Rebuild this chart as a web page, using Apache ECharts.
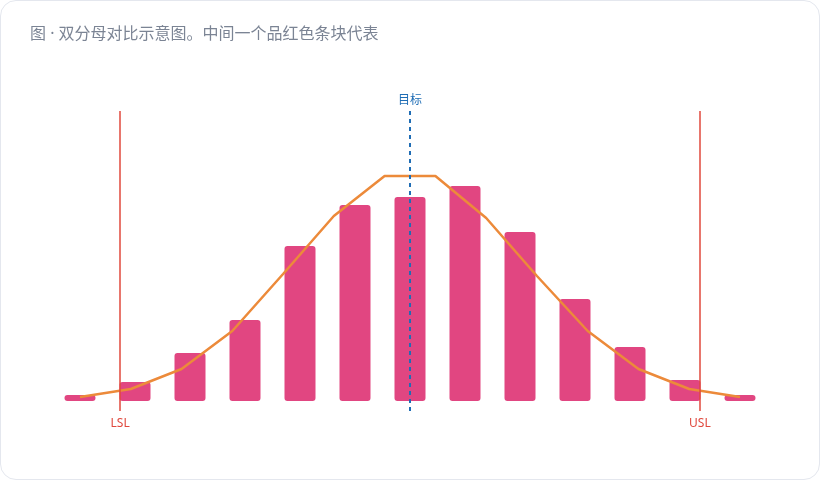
<!DOCTYPE html>
<html>
<head>
<meta charset="utf-8">
<script src="https://cdn.jsdelivr.net/npm/echarts@6/dist/echarts.min.js"></script>
<style>
html,body{margin:0;padding:0;background:#ffffff;}
#card{position:absolute;left:0;top:0;width:818px;height:478px;border:1px solid #e4e7ee;border-radius:16px;background:#fff;overflow:hidden;}
#chart{width:818px;height:478px;}
</style>
</head>
<body>
<div id="card"><div id="chart"></div></div>
<script>
// bar positions (bin index) and bar heights
var binPositions = [0,1,2,3,4,5,6,7,8,9,10,11,12];
var barValues = [3, 9.5, 24, 40.5, 77.5, 98, 102, 107.5, 84.5, 51, 27, 10.5, 3];
// fitted curve points
var curveX = [0, 0.923, 1.846, 2.769, 3.692, 4.615, 5.538, 6.462, 7.385, 8.308, 9.231, 10.154, 11.077, 12];
var curveValues = [2, 6, 16, 35, 63.5, 92.5, 112.5, 112.5, 91.5, 62.5, 35, 16, 6, 2];
// reference lines
var lslValue = 0.727;
var uslValue = 11.273;
var targetValue = 6;
var titleText = '图 · 双分母对比示意图。中间一个品红色条块代表';

var chart = echarts.init(document.getElementById('chart'));
var font = '"Noto Sans","Noto Sans CJK SC",sans-serif';
chart.setOption({
  animation: false,
  textStyle: {fontFamily: font},
  title: {
    text: titleText, left: 24, top: 20,
    textStyle: {fontSize: 16, fontWeight: 'normal', color: '#7b8494', fontFamily: font}
  },
  grid: {left: 51.5, right: 51.5, top: 110, bottom: 68},
  xAxis: {type: 'value', min: -0.5, max: 12.5, show: false},
  yAxis: {type: 'value', min: -5, max: 145, show: false},
  series: [
    {
      type: 'line', data: [], z: 1, silent: true,
      markLine: {
        symbol: 'none', silent: true,
        data: [
          {xAxis: lslValue, lineStyle: {color: '#e0483d', width: 1.5, type: 'solid'},
           label: {formatter: 'LSL', position: 'start', color: '#e0483d', fontSize: 12, distance: 7, fontFamily: font}},
          {xAxis: uslValue, lineStyle: {color: '#e0483d', width: 1.5, type: 'solid'},
           label: {formatter: 'USL', position: 'start', color: '#e0483d', fontSize: 12, distance: 7, fontFamily: font}},
          {xAxis: targetValue, lineStyle: {color: '#1f6db5', width: 2, type: [4, 4]},
           label: {formatter: '目标', position: 'end', color: '#1f6db5', fontSize: 12, distance: 4, fontFamily: font}}
        ]
      }
    },
    {
      type: 'bar', z: 2,
      data: binPositions.map(function (x, i) { return [x, barValues[i]]; }),
      barWidth: 31,
      itemStyle: {color: '#de3676', opacity: 0.92, borderRadius: 3}
    },
    {
      type: 'line', z: 3,
      data: curveX.map(function (x, i) { return [x, curveValues[i]]; }),
      symbol: 'none',
      lineStyle: {color: '#ec8a3a', width: 2.5}
    }
  ]
});
</script>
</body>
</html>
